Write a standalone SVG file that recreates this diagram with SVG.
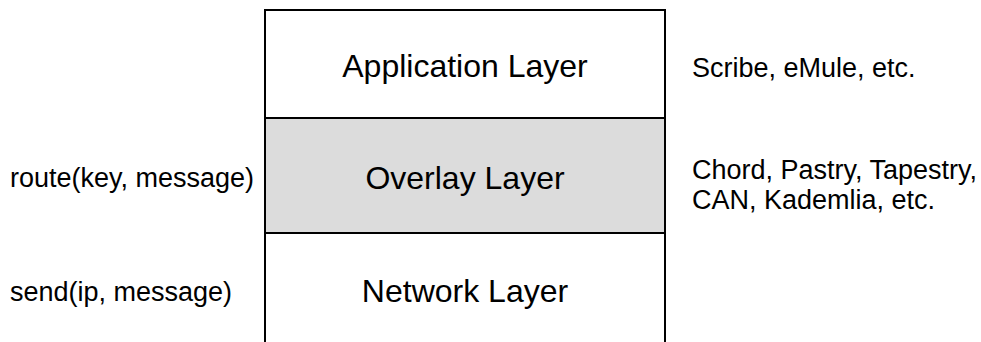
<svg xmlns="http://www.w3.org/2000/svg" width="981" height="342" viewBox="0 0 981 342">
<style>
.box{stroke:#000;stroke-width:2;}
.lay{font-family:"Liberation Sans",Arial,sans-serif;font-size:32px;fill:#000;text-anchor:middle;}
.side{font-family:"Liberation Sans",Arial,sans-serif;font-size:27px;fill:#000;}
</style>
<rect width="981" height="342" fill="#fff"/>
<g id="application-layer">
<rect class="box" x="265" y="10" width="400" height="108" fill="#fff"/>
<text class="lay" x="465" y="77">Application Layer</text>
</g>
<g id="overlay-layer">
<rect class="box" x="265" y="118" width="400" height="115" fill="#dcdcdc"/>
<text class="lay" x="465" y="189">Overlay Layer</text>
</g>
<g id="network-layer">
<path class="box" d="M265 233 H665 M265 233 V342 M665 233 V342" fill="none"/>
<text class="lay" x="465" y="302">Network Layer</text>
</g>
<g id="labels">
<text class="side" x="10" y="187">route(key, message)</text>
<text class="side" x="10" y="301">send(ip, message)</text>
<text class="side" x="692" y="77">Scribe, eMule, etc.</text>
<text class="side" x="692" y="179">Chord, Pastry, Tapestry,</text>
<text class="side" x="692" y="209">CAN, Kademlia, etc.</text>
</g>
<g id="connectors"></g>
</svg>
